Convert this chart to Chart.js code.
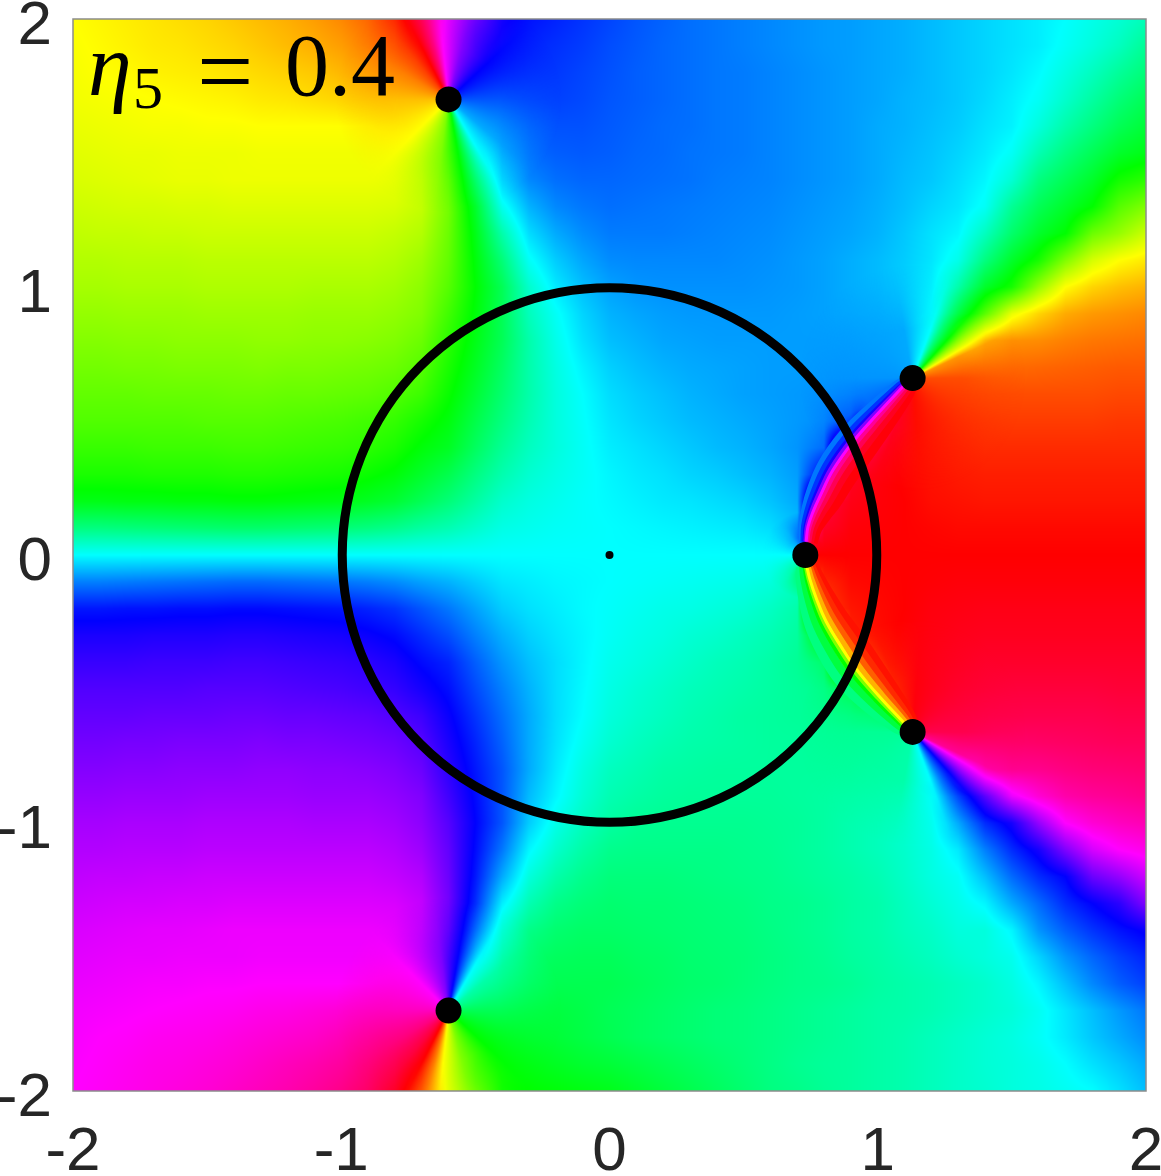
<!DOCTYPE html>
<html>
<head>
<meta charset="utf-8">
<script src="https://cdn.jsdelivr.net/npm/chart.js@4"></script>
<style>
  html, body { margin: 0; padding: 0; background: #fff; overflow: hidden; }
  canvas { display: block; }
</style>
</head>
<body>
<canvas id="chart" width="1161" height="1176"></canvas>
<script>
const tickValues = [-2, -1, 0, 1, 2];
const zeroX = [-0.6, 1.13, 0.73, 1.13, -0.6];
const zeroY = [1.7, 0.66, 0, -0.66, -1.7];

// hue in degrees, rows y = 2.0 .. -2.0, columns x = -2.0 .. 2.0, step 0.1
const hueRows = [
[60,58,56,54,52,50,47,44,41,37,32,24,10,340,295,265,242,236,232,228,224,220,217,214,212,210,208,206,204,203,201,199,196,193,190,187,184,180,175,170,163],
[61,59,57,55,54,52,50,47,44,41,37,30,20,355,290,245,236,232,229,226,222,219,216,214,212,210,208,206,204,203,201,199,196,193,190,187,184,178,172,165,155],
[62,60,59,57,56,55,53,51,49,47,43,38,30,25,320,235,232,229,227,224,221,218,216,214,212,211,209,207,205,203,201,199,196,193,190,186,181,173,165,156,148],
[63,62,61,60,59,58,57,55,54,52,50,47,43,40,60,225,226,226,225,223,220,218,216,214,212,211,209,207,205,203,201,198,196,193,189,184,178,168,158,148,140],
[65,64,63,62,62,61,61,60,60,60,60,60,58,58,100,195,215,220,221,221,219,217,215,214,212,211,209,207,205,203,200,198,195,192,187,183,172,160,150,140,133],
[67,66,65,65,64,64,64,63,63,63,63,63,64,70,95,165,205,215,218,219,218,216,215,213,212,211,209,207,205,203,200,197,194,190,185,178,162,150,140,130,125],
[69,68,67,66,65,65,64,64,64,64,64,64,65,70,92,145,192,208,214,216,216,215,214,213,211,210,209,207,205,203,200,196,193,188,182,170,150,140,130,116,110],
[72,71,70,70,69,69,68,68,68,68,68,68,69,74,93,130,176,198,208,212,214,213,212,211,210,209,208,206,204,202,199,195,190,186,178,155,140,130,120,100,90],
[75,74,74,73,73,72,72,72,72,72,72,72,74,78,95,125,160,188,200,207,211,211,211,210,209,208,207,205,203,201,198,193,187,182,165,145,130,120,95,85,72],
[78,78,77,77,77,76,76,76,76,76,76,76,78,83,97,122,148,178,192,201,207,208,208,208,208,207,206,204,202,199,196,192,186,175,150,130,115,90,70,60,55],
[81,81,80,80,80,79,79,79,79,80,80,80,82,87,100,120,140,168,185,195,202,205,206,206,206,206,205,204,202,199,196,191,183,160,130,115,85,60,50,45,42],
[85,85,84,84,84,83,83,83,83,84,84,84,86,90,105,122,140,164,178,190,198,201,203,204,204,204,204,203,202,200,197,190,178,135,100,65,50,40,36,34,32],
[89,89,88,88,87,87,87,86,86,87,87,88,90,95,110,125,140,160,175,187,195,198,201,202,203,203,203,203,203,203,200,190,150,80,42,34,33,30,28,27,26],
[93,93,92,92,91,91,91,90,91,91,92,93,95,100,114,128,143,160,173,183,191,195,198,200,201,202,203,203,204,205,208,200,50,30,28,25,24,23,22,21,21],
[97,97,97,96,96,96,95,95,96,96,97,98,101,106,118,132,146,160,172,180,188,192,195,198,200,202,203,204,205,208,225,345,14,17,18,18,18,18,18,17,17],
[101,101,101,101,101,100,100,100,101,102,103,105,108,115,123,137,150,162,172,179,186,190,193,196,198,200,202,204,207,225,350,2,9,11,13,14,14,14,14,13,13],
[107,107,107,106,106,106,105,105,106,107,108,110,114,122,128,142,155,165,172,178,184,187,190,193,196,198,201,205,215,340,355,2,6,8,10,10,10,10,10,10,10],
[114,114,114,113,113,113,112,112,113,114,115,118,122,130,138,150,161,169,174,178,182,185,187,190,192,195,198,203,245,352,357,1,4,6,7,7,7,7,7,7,7],
[125,125,124,124,123,123,122,122,123,124,125,128,132,140,148,158,168,173,176,179,181,183,185,186,188,190,194,200,345,355,358,0,3,4,5,5,5,5,5,5,5],
[150,150,149,148,147,146,145,145,146,147,148,150,153,158,162,168,174,176,178,179,180,181,182,183,184,185,188,195,350,358,359,0,1,2,2,2,2,2,2,2,2],
[180,180,180,180,180,180,180,180,180,180,180,180,180,180,180,180,180,180,180,180,180,180,180,180,180,180,180,178,0,0,0,0,0,0,0,0,0,0,0,0,0],
[210,210,211,212,213,214,215,215,214,213,212,210,207,202,198,192,186,184,182,181,180,179,178,177,176,175,172,165,10,2,1,0,359,358,358,358,358,358,358,358,358],
[235,235,236,236,237,237,238,238,237,236,235,232,228,220,212,202,192,187,184,181,179,177,175,174,172,170,166,160,15,5,2,0,357,356,355,355,355,355,355,355,355],
[246,246,246,247,247,247,248,248,247,246,245,242,238,230,222,210,199,191,186,182,178,175,173,170,168,165,162,157,115,8,3,359,356,354,353,353,353,353,353,353,353],
[253,253,253,254,254,254,255,255,254,253,252,250,246,238,232,218,205,195,188,182,176,173,170,167,164,162,159,155,145,20,5,358,354,352,350,350,350,350,350,350,350],
[259,259,259,259,259,260,260,260,259,258,257,255,252,245,237,223,210,198,188,181,174,170,167,164,162,160,158,156,153,135,10,358,351,349,347,346,346,346,346,347,347],
[263,263,263,264,264,264,265,265,264,264,263,262,259,254,242,228,214,200,188,180,172,168,165,162,160,158,157,156,155,152,135,15,346,343,342,342,342,342,342,343,343],
[267,267,268,268,269,269,269,270,269,269,268,267,265,260,246,232,217,200,187,177,169,165,162,160,159,158,157,157,156,155,152,160,310,330,332,335,336,337,338,339,339],
[271,271,272,272,273,273,273,274,274,273,273,272,270,265,250,235,220,200,185,173,165,162,159,158,157,157,157,157,157,157,160,170,210,280,318,326,327,330,332,333,334],
[275,275,276,276,276,277,277,277,277,276,276,276,274,270,255,238,220,196,182,170,162,159,157,156,156,156,156,157,158,160,163,170,182,225,260,295,310,320,324,326,328],
[279,279,280,280,280,281,281,281,281,280,280,280,278,273,260,240,220,192,175,165,158,155,154,154,154,154,155,156,158,161,164,169,177,200,230,245,275,300,310,315,318],
[282,282,283,283,283,284,284,284,284,284,284,284,282,277,263,238,212,182,168,159,153,152,152,152,152,153,154,156,158,161,164,168,174,185,210,230,245,270,290,300,305],
[285,286,286,287,287,288,288,288,288,288,288,288,286,282,265,235,200,172,160,153,149,149,149,150,151,152,153,155,157,159,162,167,173,178,195,215,230,240,265,275,288],
[288,289,290,290,291,291,292,292,292,292,292,292,291,286,267,230,184,162,152,148,146,147,147,148,149,150,152,153,155,158,160,165,170,175,182,200,215,230,240,250,270],
[291,292,293,294,294,295,296,296,296,296,296,296,295,290,268,215,168,152,146,144,144,145,146,147,148,149,151,153,155,158,160,164,167,172,172,182,205,218,228,236,242],
[293,294,295,295,296,296,296,297,297,297,297,297,296,290,265,195,155,145,142,141,141,143,144,146,147,148,150,152,154,157,159,162,165,169,172,176,190,205,216,225,232],
[295,296,297,298,298,299,299,300,300,300,300,300,302,302,260,165,145,140,139,139,139,141,143,145,146,148,150,152,153,155,158,160,162,165,168,173,182,195,208,218,225],
[297,298,299,300,301,302,303,305,306,308,310,313,317,320,60,135,134,134,135,137,140,142,144,146,148,149,151,153,155,157,159,160,162,165,168,171,177,186,195,204,212],
[298,300,301,303,304,305,307,309,311,313,317,322,330,335,40,125,128,131,133,136,139,142,144,146,148,149,151,153,155,157,159,161,164,167,170,173,178,185,193,200,207],
[299,301,303,305,306,308,310,313,316,319,323,330,340,5,70,115,122,125,128,131,133,136,139,142,145,148,151,154,156,157,159,161,164,167,170,172,175,180,187,193,200],
[300,302,304,306,308,310,313,316,319,323,328,336,350,20,65,95,119,120,122,124,126,130,134,138,142,146,150,152,155,157,159,161,164,167,169,172,174,177,180,187,195]
];

// hue round each zero: [direction in degrees from +x, hue], read close to the black dots
const fanTopLeft = [[0,220],[43,240],[75,270],[96,300],[105,330],[117,0],[130,15],[150,30],[180,45],[225,60],[262,90],[280,120],[290,150],[300,180],[320,200]];
const fanBottomLeft = [[0,140],[40,160],[60,180],[70,210],[80,240],[98,270],[135,300],[180,315],[210,330],[230,345],[243,0],[255,30],[264,60],[285,90],[317,120]];
const fanTopRight = [[0,18],[25,35],[31,60],[40,90],[48,120],[60,150],[70,180],[100,200],[180,205],[210,215],[222,240],[226,270],[230,300],[238,335],[250,352],[275,3]];
const fanBottomRight = [[0,342],[85,357],[110,8],[122,25],[130,60],[134,90],[138,120],[150,145],[180,155],[260,160],[290,180],[300,210],[312,240],[320,270],[329,300],[335,325]];
const fanMiddle = [[0,0],[60,352],[78,335],[84,300],[88,270],[92,240],[105,220],[130,200],[180,180],[230,160],[255,140],[268,120],[272,90],[276,60],[282,35],[300,8]];

// centre of the sharp arc through the zeros on the right, too narrow for the grid
const arcTop = [[0.733,0.05],[0.74,0.106],[0.759,0.162],[0.784,0.218],[0.833,0.317],[0.908,0.423],[0.995,0.522],[1.082,0.616],[1.11,0.645]];
const arcBottom = [[0.735,-0.04],[0.746,-0.087],[0.771,-0.162],[0.808,-0.249],[0.871,-0.354],[0.927,-0.435],[1.007,-0.529],[1.088,-0.616],[1.115,-0.645]];
const arcSpread = [0.3, 0.45, 0.65, 0.85, 1, 1, 0.8, 0.5, 0.3];
// [offset across the arc, hue, stroke width], outermost first
const topBands = [[0.075,358,11],[-0.05,212,7],[0.047,352,8],[-0.033,228,6],[0.027,340,6],[-0.02,245,4],[0.013,325,4],[-0.01,270,4],[0,300,3]];
const bottomBands = [[-0.075,150,10],[0.075,4,11],[-0.045,135,8],[0.055,10,8],[-0.022,120,5],[0.035,22,6],[-0.01,90,4],[0.016,42,5],[0,60,3]];

const huePoints = [];
hueRows.forEach((row, r) => row.forEach((h, c) => {
  huePoints.push({ x: -2 + c * 0.1, y: 2 - r * 0.1, h: h });
}));

// shifts the arc sideways by s, less towards its ends
function shifted(arc, s, side) {
  return arc.map((p, i) => {
    const a = arc[Math.max(i - 1, 0)], b = arc[Math.min(i + 1, arc.length - 1)];
    const dx = b[0] - a[0], dy = b[1] - a[1], len = Math.hypot(dx, dy);
    return { x: p[0] + side * s * arcSpread[i] * dy / len, y: p[1] - side * s * arcSpread[i] * dx / len };
  });
}
const bandSets = (arc, bands, side) => bands.map((b, i) => ({
  type: "line", data: shifted(arc, b[0], side), borderColor: "hsl(" + b[1] + ",100%,50%)",
  borderWidth: b[2], pointRadius: 0, tension: 0.4, order: 30 - i, clip: false
}));

function hueToRgb(h) {
  h = ((h % 360) + 360) % 360 / 60;
  const f = h - Math.floor(h);
  switch (Math.floor(h)) {
    case 0: return [255, 255 * f, 0];
    case 1: return [255 * (1 - f), 255, 0];
    case 2: return [0, 255, 255 * f];
    case 3: return [0, 255 * (1 - f), 255];
    case 4: return [255 * f, 0, 255];
    default: return [255, 0, 255 * (1 - f)];
  }
}

// paints the hue cells through the chart's scales, blending along the colour wheel
function paintCells(chart) {
  const { ctx, chartArea: a, scales: { x, y } } = chart;
  const pts = chart.data.datasets[0].data;
  const cols = hueRows[0].length, rows = hueRows.length;
  const w = Math.round(a.right - a.left), h = Math.round(a.bottom - a.top);
  const off = document.createElement("canvas");
  off.width = w; off.height = h;
  const o = off.getContext("2d");
  const img = o.createImageData(w, h);
  const rel = (v, base) => ((v - base + 540) % 360) - 180;
  for (let py = 0; py < h; py++) {
    const v = Math.min((2 - y.getValueForPixel(a.top + py + 0.5)) * 10, rows - 1.001);
    const r = Math.max(0, Math.floor(v)), fy = v - r;
    for (let px = 0; px < w; px++) {
      const u = Math.min((x.getValueForPixel(a.left + px + 0.5) + 2) * 10, cols - 1.001);
      const c = Math.max(0, Math.floor(u)), fx = u - c;
      const h00 = pts[r * cols + c].h;
      const d10 = rel(pts[r * cols + c + 1].h, h00);
      const d01 = rel(pts[(r + 1) * cols + c].h, h00);
      const d11 = rel(pts[(r + 1) * cols + c + 1].h, h00);
      const hue = h00 + fx * (1 - fy) * d10 + (1 - fx) * fy * d01 + fx * fy * d11;
      const rgb = hueToRgb(hue);
      const k = (py * w + px) * 4;
      img.data[k] = rgb[0]; img.data[k + 1] = rgb[1]; img.data[k + 2] = rgb[2]; img.data[k + 3] = 255;
    }
  }
  o.putImageData(img, 0, 0);
  ctx.drawImage(off, a.left, a.top);
}

// conic colours round a zero, fading out into the cells
function paintFan(chart, zx, zy, stops, radius) {
  const { ctx, scales: { x, y } } = chart;
  const cx = x.getPixelForValue(zx), cy = y.getPixelForValue(zy);
  const R = x.getPixelForValue(zx + radius) - cx;
  const size = Math.ceil(R * 2) + 2;
  const off = document.createElement("canvas");
  off.width = off.height = size;
  const o = off.getContext("2d");
  const cone = o.createConicGradient(0, size / 2, size / 2);
  stops.map(s => [((360 - s[0]) % 360) / 360, s[1]]).forEach(s => {
    cone.addColorStop(s[0], "hsl(" + s[1] + ",100%,50%)");
  });
  cone.addColorStop(1, "hsl(" + stops[0][1] + ",100%,50%)");
  o.fillStyle = cone;
  o.fillRect(0, 0, size, size);
  o.globalCompositeOperation = "destination-in";
  const fade = o.createRadialGradient(size / 2, size / 2, 0, size / 2, size / 2, R);
  fade.addColorStop(0, "rgba(0,0,0,1)");
  fade.addColorStop(0.45, "rgba(0,0,0,1)");
  fade.addColorStop(1, "rgba(0,0,0,0)");
  o.fillStyle = fade;
  o.fillRect(0, 0, size, size);
  ctx.drawImage(off, cx - size / 2, cy - size / 2);
}

const huePlugin = {
  id: "hueImage",
  beforeDatasetsDraw(chart) {
    const { ctx, chartArea: a } = chart;
    paintCells(chart);
    ctx.save();
    ctx.beginPath();
    ctx.rect(a.left, a.top, a.right - a.left, a.bottom - a.top);
    ctx.clip();
    paintFan(chart, zeroX[0], zeroY[0], fanTopLeft, 0.42);
    paintFan(chart, zeroX[4], zeroY[4], fanBottomLeft, 0.42);
    paintFan(chart, zeroX[1], zeroY[1], fanTopRight, 0.42);
    paintFan(chart, zeroX[3], zeroY[3], fanBottomRight, 0.42);
    paintFan(chart, zeroX[2], zeroY[2], fanMiddle, 0.16);
    ctx.restore();
  },
  afterDraw(chart) {
    const { ctx, chartArea: a } = chart;
    ctx.save();
    ctx.strokeStyle = "#8c8c8c";
    ctx.lineWidth = 1.5;
    ctx.strokeRect(a.left, a.top, a.right - a.left, a.bottom - a.top);
    ctx.fillStyle = "#000";
    ctx.textBaseline = "alphabetic";
    ctx.font = "italic 88px 'Liberation Serif'";
    ctx.fillText("η", 88, 95);
    ctx.font = "60px 'Liberation Serif'";
    ctx.fillText("5", 133, 108);
    ctx.font = "100px 'Liberation Serif'";
    ctx.fillText("=", 197, 105);
    ctx.font = "88px 'Liberation Serif'";
    ctx.fillText("0.4", 285, 95);
    ctx.restore();
  }
};

const fixBox = (size, key) => scale => {
  scale[key] = size;
  scale.paddingLeft = scale.paddingRight = scale.paddingTop = scale.paddingBottom = 0;
};
const tickFont = { family: "'Liberation Sans'", size: 62 };

new Chart(document.getElementById("chart"), {
  type: "scatter",
  data: {
    datasets: [
      { data: huePoints, pointRadius: 0, order: 40 },
      ...bandSets(arcTop, topBands, 1),
      ...bandSets(arcBottom, bottomBands, -1),
      {
        data: [{ x: 0, y: 0 }],
        pointRadius: c => c.chart.scales.x.getPixelForValue(1) - c.chart.scales.x.getPixelForValue(0) - 1,
        pointBackgroundColor: "transparent", pointBorderColor: "#000", pointBorderWidth: 9,
        order: 2, clip: false
      },
      { data: [{ x: 0, y: 0 }], pointRadius: 4, pointBackgroundColor: "#000", pointBorderWidth: 0, order: 1 },
      {
        data: zeroX.map((v, i) => ({ x: v, y: zeroY[i] })),
        pointRadius: 13, pointBackgroundColor: "#000", pointBorderWidth: 0, order: 1
      }
    ]
  },
  options: {
    responsive: false,
    animation: false,
    events: [],
    layout: { padding: { left: 0, top: 19, right: 15, bottom: 0 } },
    plugins: { legend: { display: false }, tooltip: { enabled: false } },
    scales: {
      x: {
        type: "linear", min: -2, max: 2,
        grid: { display: false }, border: { display: false },
        afterBuildTicks: s => { s.ticks = tickValues.map(v => ({ value: v })); },
        afterFit: fixBox(85, "height"),
        ticks: { autoSkip: false, maxRotation: 0, minRotation: 0, color: "#262626", font: tickFont, padding: 17, callback: v => String(v) }
      },
      y: {
        type: "linear", min: -2, max: 2,
        grid: { display: false }, border: { display: false },
        afterBuildTicks: s => { s.ticks = tickValues.map(v => ({ value: v })); },
        afterFit: fixBox(73, "width"),
        ticks: { autoSkip: false, color: "#262626", font: tickFont, padding: 13, labelOffset: 8, callback: v => String(v) }
      }
    }
  },
  plugins: [huePlugin]
});
</script>
</body>
</html>
